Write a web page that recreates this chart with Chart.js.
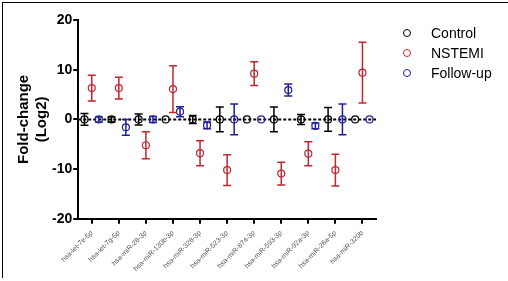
<!DOCTYPE html>
<html>
<head>
<meta charset="utf-8">
<script src="https://cdn.jsdelivr.net/npm/chart.js@4"></script>
<style>
  body { margin: 0; background: #fff; }
  #wrap { position: relative; width: 508px; height: 281px; }
  #chart { position: absolute; left: 0; top: 0; }
  #frame { position: absolute; left: 2px; top: 2px; right: 0; bottom: 3px;
           border-left: 1px solid #000; border-top: 1px solid #000; pointer-events: none; }
  #legend { position: absolute; left: 403px; top: 23px; font: 14px "Liberation Sans", Arial, sans-serif; color: #000; }
  #legend div { height: 20px; line-height: 20px; white-space: nowrap; }
  #legend span { display: inline-block; width: 6px; height: 6px; border: 1px solid; border-radius: 50%;
                 margin-right: 20px; vertical-align: 1px; }
</style>
</head>
<body>
<div id="wrap">
  <canvas id="chart" width="508" height="281"></canvas>
  <div id="frame"></div>
  <div id="legend"></div>
</div>
<script>
// miRNA categories
const mirnas = ['hsa-let-7e-5p', 'hsa-let-7g-5p', 'hsa-miR-28-3p', 'hsa-miR-130b-3p', 'hsa-miR-328-3p',
                'hsa-miR-523-3p', 'hsa-miR-874-3p', 'hsa-miR-593-3p', 'hsa-miR-92a-3p', 'hsa-miR-26a-5p', 'hsa-miR-320b'];

// fold change (log2) and error
const controlVals = [0, 0, 0, 0, 0, 0, 0, 0, 0, 0, 0];
const controlErr  = [1.2, 0.5, 1.1, 0, 0.8, 2.5, 0, 2.5, 1.0, 2.4, 0];
const nstemiVals  = [6.3, 6.3, -5.2, 6.1, -6.8, -10.2, 9.2, -10.9, -6.9, -10.2, 9.4];
const nstemiErr   = [2.6, 2.2, 2.7, 4.7, 2.5, 3.1, 2.4, 2.3, 2.4, 3.2, 6.1];
const followVals  = [0, -1.6, 0, 1.55, -1.2, 0, 0, 5.9, -1.3, 0, 0];
const followErr   = [0.5, 1.6, 0.6, 1.0, 0.7, 3.1, 0, 1.2, 0.6, 3.1, 0];

const yTicks = [-20, -10, 0, 10, 20];

const seriesNames = ['Control', 'NSTEMI', 'Follow-up'];
const seriesColors = ['#000000', '#c3262f', '#1f1f9a'];

function pts(vals, shift) {
    return vals.map((v, i) => ({ x: i + shift, y: v }));
}

// draws the vertical error bars with caps
const errorBars = {
    id: 'errorBars',
    afterDatasetsDraw(chart) {
        const ctx = chart.ctx;
        const y = chart.scales.y;
        chart.data.datasets.forEach((ds, di) => {
            if (!ds.errors) return;
            const meta = chart.getDatasetMeta(di);
            ctx.save();
            ctx.strokeStyle = ds.borderColor;
            ctx.lineWidth = 1.5;
            meta.data.forEach((p, i) => {
                const e = ds.errors[i];
                if (!e) return;
                const v = ds.data[i].y;
                const top = y.getPixelForValue(v + e);
                const bot = y.getPixelForValue(v - e);
                ctx.beginPath();
                ctx.moveTo(p.x, top); ctx.lineTo(p.x, bot);
                ctx.moveTo(p.x - 4, top); ctx.lineTo(p.x + 4, top);
                ctx.moveTo(p.x - 4, bot); ctx.lineTo(p.x + 4, bot);
                ctx.stroke();
            });
            ctx.restore();
        });
    }
};

function seriesSet(i, vals, errs, shift) {
    return {
        label: seriesNames[i],
        data: pts(vals, shift),
        errors: errs,
        borderColor: seriesColors[i],
        backgroundColor: 'transparent',
        pointStyle: 'circle',
        pointRadius: 3.5,
        pointBorderWidth: 1.2,
        showLine: false
    };
}

const ctx = document.getElementById('chart').getContext('2d');
const chart = new Chart(ctx, {
    type: 'scatter',
    data: {
        datasets: [
            seriesSet(0, controlVals, controlErr, -0.27),
            seriesSet(1, nstemiVals, nstemiErr, 0),
            seriesSet(2, followVals, followErr, 0.26),
            {
                label: 'baseline',
                data: [{ x: -0.5, y: 0 }, { x: mirnas.length - 0.5, y: 0 }],
                borderColor: '#000',
                borderWidth: 2,
                borderDash: [3, 2],
                pointRadius: 0,
                showLine: true
            }
        ]
    },
    options: {
        responsive: false,
        animation: false,
        layout: { padding: { left: 15, top: 20, right: 132, bottom: 3 } },
        plugins: {
            legend: { display: false },
            tooltip: { enabled: false }
        },
        scales: {
            x: {
                type: 'linear',
                min: -0.5,
                max: mirnas.length - 0.5,
                afterBuildTicks: axis => { axis.ticks = mirnas.map((_, i) => ({ value: i })); },
                border: { color: '#000', width: 2 },
                grid: { drawOnChartArea: false, color: '#000', lineWidth: 2, tickLength: 5 },
                ticks: {
                    callback: v => mirnas[v],
                    minRotation: 45,
                    maxRotation: 45,
                    autoSkip: false,
                    padding: 5,
                    color: '#555',
                    font: { family: 'Liberation Sans, Arial, sans-serif', size: 7 }
                }
            },
            y: {
                min: -20,
                max: 20,
                afterBuildTicks: axis => { axis.ticks = yTicks.map(v => ({ value: v })); },
                border: { color: '#000', width: 2 },
                grid: { drawOnChartArea: false, color: '#000', lineWidth: 2, tickLength: 5 },
                ticks: {
                    color: '#000',
                    padding: 1,
                    font: { family: 'Liberation Sans, Arial, sans-serif', size: 14, weight: 'bold' }
                },
                title: {
                    display: true,
                    text: ['Fold-change', '(Log2)'],
                    color: '#000',
                    padding: { top: 0, bottom: 0 },
                    font: { family: 'Liberation Sans, Arial, sans-serif', size: 15, weight: 'bold', lineHeight: 1.2 }
                }
            }
        }
    },
    plugins: [errorBars]
});

// legend as html, from the series names and colors
const legendEl = document.getElementById('legend');
seriesNames.forEach((name, i) => {
    const row = document.createElement('div');
    const dot = document.createElement('span');
    dot.style.borderColor = seriesColors[i];
    row.appendChild(dot);
    row.appendChild(document.createTextNode(name));
    legendEl.appendChild(row);
});
</script>
</body>
</html>
